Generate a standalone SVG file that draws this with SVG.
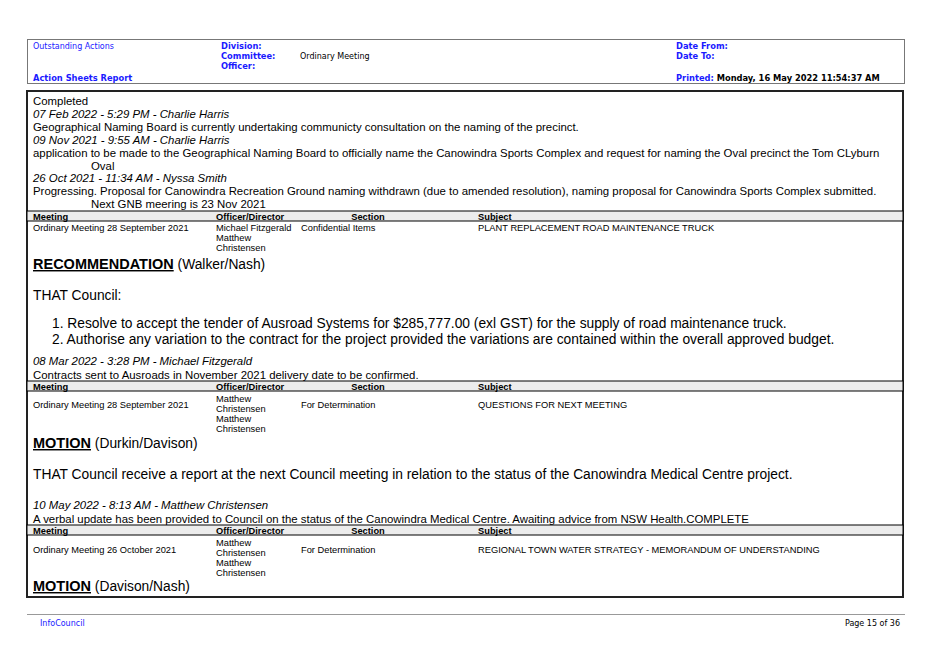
<svg xmlns="http://www.w3.org/2000/svg" width="939" height="664" viewBox="0 0 939 664">
<style>
.h{font-family:"DejaVu Sans",sans-serif;font-size:8px;fill:#1a1aff}
.hb{font-family:"DejaVu Sans",sans-serif;font-size:8.3px;font-weight:bold;fill:#1a1aff}
.hk{font-family:"DejaVu Sans",sans-serif;font-size:8px;fill:#000}
.t{font-family:"Liberation Sans",sans-serif;font-size:11.4px;fill:#000}
.i{font-family:"Liberation Sans",sans-serif;font-size:11.4px;font-style:italic;fill:#000}
.s{font-family:"Liberation Sans",sans-serif;font-size:9.3px;fill:#000}
.sb{font-family:"Liberation Sans",sans-serif;font-size:9.3px;font-weight:bold;fill:#000}
.l{font-family:"Liberation Sans",sans-serif;font-size:13.8px;fill:#000}
.lb{font-weight:bold;text-decoration:underline;font-size:14.5px}
.band{fill:#ececec;stroke:#000;stroke-width:1}
</style>
<rect width="939" height="664" fill="#fff"/>
<g id="header">
<rect x="27.5" y="39.5" width="877" height="44" fill="none" stroke="#777" stroke-width="1"/>
<text class="h" x="33" y="49">Outstanding Actions</text>
<text class="hb" x="221" y="49">Division:</text>
<text class="hb" x="221" y="59">Committee:</text>
<text class="hk" x="300" y="59">Ordinary Meeting</text>
<text class="hb" x="221" y="69">Officer:</text>
<text class="hb" x="33" y="81">Action Sheets Report</text>
<text class="hb" x="676" y="49">Date From:</text>
<text class="hb" x="676" y="59">Date To:</text>
<text class="hb" x="676" y="81">Printed: <tspan fill="#000">Monday, 16 May 2022   11:54:37 AM</tspan></text>
</g>
<g id="main">
<rect x="27" y="91" width="876" height="506" fill="none" stroke="#222" stroke-width="2"/>
<text class="t" x="33" y="105">Completed</text>
<text class="i" x="33" y="118">07 Feb 2022 - 5:29 PM - Charlie Harris</text>
<text class="t" x="33" y="131">Geographical Naming Board is currently undertaking communicty consultation on the naming of the precinct.</text>
<text class="i" x="33" y="144">09 Nov 2021 - 9:55 AM - Charlie Harris</text>
<text class="t" x="33" y="157">application to be made to the Geographical Naming Board to officially name the Canowindra Sports Complex and request for naming the Oval precinct the Tom CLyburn</text>
<text class="t" x="91" y="170">Oval</text>
<text class="i" x="33" y="182">26 Oct 2021 - 11:34 AM - Nyssa Smith</text>
<text class="t" x="33" y="195">Progressing. Proposal for Canowindra Recreation Ground naming withdrawn (due to amended resolution), naming proposal for Canowindra Sports Complex submitted.</text>
<text class="t" x="91" y="208">Next GNB meering is 23 Nov 2021</text>
</g>
<g id="table1">
<rect class="band" x="27" y="211" width="876" height="10"/>
<text class="sb" x="33" y="219.5">Meeting</text><text class="sb" x="216" y="219.5">Officer/Director</text><text class="sb" x="368" y="219.5" text-anchor="middle">Section</text><text class="sb" x="478" y="219.5">Subject</text>
<text class="s" x="33" y="231">Ordinary Meeting 28 September 2021</text>
<text class="s" x="216" y="231">Michael Fitzgerald</text><text class="s" x="216" y="241">Matthew</text><text class="s" x="216" y="251">Christensen</text>
<text class="s" x="301" y="231">Confidential Items</text>
<text class="s" x="478" y="231">PLANT REPLACEMENT ROAD MAINTENANCE TRUCK</text>
<text class="l" x="33" y="269"><tspan class="lb">RECOMMENDATION</tspan> (Walker/Nash)</text>
<text class="l" x="33" y="300">THAT Council:</text>
<text class="l" x="52" y="328">1.  Resolve to accept the tender of Ausroad Systems for $285,777.00 (exl GST) for the supply of road maintenance truck.</text>
<text class="l" x="52" y="344">2.  Authorise any variation to the contract for the project provided the variations are contained within the overall approved budget.</text>
<text class="i" x="33" y="365">08 Mar 2022 - 3:28 PM - Michael Fitzgerald</text>
<text class="t" x="33" y="379">Contracts sent to Ausroads in November 2021 delivery date to be confirmed.</text>
</g>
<g id="table2">
<rect class="band" x="27" y="381" width="876" height="10"/>
<text class="sb" x="33" y="389.5">Meeting</text><text class="sb" x="216" y="389.5">Officer/Director</text><text class="sb" x="368" y="389.5" text-anchor="middle">Section</text><text class="sb" x="478" y="389.5">Subject</text>
<text class="s" x="33" y="408">Ordinary Meeting 28 September 2021</text>
<text class="s" x="216" y="402">Matthew</text><text class="s" x="216" y="412">Christensen</text><text class="s" x="216" y="422">Matthew</text><text class="s" x="216" y="432">Christensen</text>
<text class="s" x="301" y="408">For Determination</text>
<text class="s" x="478" y="408">QUESTIONS FOR NEXT MEETING</text>
<text class="l" x="33" y="448"><tspan class="lb">MOTION</tspan> (Durkin/Davison)</text>
<text class="l" x="33" y="479">THAT Council receive a report at the next Council meeting in relation to the status of the Canowindra Medical Centre project.</text>
<text class="i" x="33" y="509">10 May 2022 - 8:13 AM - Matthew Christensen</text>
<text class="t" x="33" y="523">A verbal update has been provided to Council on the status of the Canowindra Medical Centre. Awaiting advice from NSW Health.COMPLETE</text>
</g>
<g id="table3">
<rect class="band" x="27" y="525" width="876" height="10"/>
<text class="sb" x="33" y="533.5">Meeting</text><text class="sb" x="216" y="533.5">Officer/Director</text><text class="sb" x="368" y="533.5" text-anchor="middle">Section</text><text class="sb" x="478" y="533.5">Subject</text>
<text class="s" x="33" y="553">Ordinary Meeting 26 October 2021</text>
<text class="s" x="216" y="546">Matthew</text><text class="s" x="216" y="556">Christensen</text><text class="s" x="216" y="566">Matthew</text><text class="s" x="216" y="576">Christensen</text>
<text class="s" x="301" y="553">For Determination</text>
<text class="s" x="478" y="553">REGIONAL TOWN WATER STRATEGY - MEMORANDUM OF UNDERSTANDING</text>
<text class="l" x="33" y="591"><tspan class="lb">MOTION</tspan> (Davison/Nash)</text>
</g>
<g id="footer">
<line x1="27" y1="614.5" x2="905" y2="614.5" stroke="#999" stroke-width="1"/>
<text class="h" x="40" y="626">InfoCouncil</text>
<text class="hk" x="900" y="626" text-anchor="end">Page 15 of 36</text>
</g>
</svg>
